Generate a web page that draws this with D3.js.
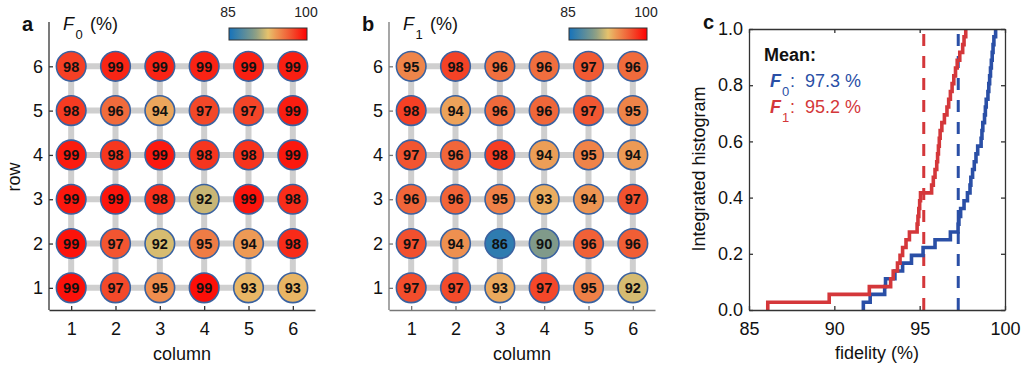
<!DOCTYPE html>
<html>
<head>
<meta charset="utf-8">
<script src="https://cdn.jsdelivr.net/npm/d3@7"></script>
<style>
  html, body { margin: 0; padding: 0; background: #fff; }
  svg { display: block; font-family: "Liberation Sans", Arial, Helvetica, sans-serif; }
</style>
</head>
<body>
<svg id="fig" width="1022" height="369"></svg>
<script>
// ---- data -------------------------------------------------------------
const columns = [1, 2, 3, 4, 5, 6];
const rowsTopDown = [6, 5, 4, 3, 2, 1];

// readout fidelity of |0> per qubit (%), rows listed from row 6 down to row 1
const f0Values = [
  [97.6, 98.6, 98.65, 98.7, 98.8, 98.85],
  [97.8, 95.9, 93.55, 97.3, 97.4, 98.9],
  [99.0, 97.95, 99.05, 98.0, 98.1, 99.1],
  [99.15, 99.2, 98.2, 91.7, 99.25, 98.3],
  [99.3, 96.8, 92.1, 95.2, 94.0, 98.4],
  [99.35, 97.25, 94.52, 99.45, 92.95, 93.0]
];

// readout fidelity of |1> per qubit (%), same layout
const f1Values = [
  [94.85, 97.52, 95.7, 95.8, 96.6, 95.9],
  [97.6, 93.7, 96.0, 96.05, 96.7, 94.9],
  [96.8, 96.1, 97.7, 93.85, 94.95, 94.0],
  [96.15, 96.2, 95.0, 93.3, 94.2, 96.9],
  [97.0, 94.4, 86.1, 89.7, 96.3, 96.45],
  [97.1, 97.2, 93.45, 97.35, 95.05, 92.05]
];

const colorDomain = [85, 90, 92.5, 94, 97, 100];
const colorRange = ["#1673bb", "#879d87", "#e6c26c", "#ed9a55", "#f2502e", "#ff0000"];
const colorbarTicks = [85, 100];
const fidelityTicks = [85, 90, 95, 100];
const cdfTicks = [0, 0.2, 0.4, 0.6, 0.8, 1.0];

// ---- setup ------------------------------------------------------------
const svg = d3.select("#fig");
const FONT = '"Liberation Sans", Arial, Helvetica, sans-serif';
const color = d3.scaleLinear().domain(colorDomain).range(colorRange).interpolate(d3.interpolateRgb).clamp(true);

const RED = "#d4373a";
const BLUE = "#2a4fa6";

function styleAxis(g, stroke, size) {
  g.attr("font-family", FONT).attr("font-size", size);
  g.select(".domain").attr("stroke", stroke).attr("stroke-width", 1.3);
  g.selectAll(".tick line").attr("stroke", stroke).attr("stroke-width", 1.3);
  g.selectAll(".tick text").attr("fill", "#111");
}

// colorbar gradient
const defs = svg.append("defs");
const grad = defs.append("linearGradient").attr("id", "cbar").attr("x1", "0%").attr("x2", "100%");
d3.range(0, 1.0001, 0.05).forEach(t => {
  grad.append("stop").attr("offset", (t * 100) + "%").attr("stop-color", color(85 + t * 15));
});

// ---- qubit grid panels ------------------------------------------------
function drawGridPanel(offsetX, values, letter, sub, axisStroke) {
  const g = svg.append("g").attr("transform", `translate(${offsetX},0)`);
  const x = d3.scaleLinear().domain([0.5, 6.5]).range([49, 315]);
  const y = d3.scaleLinear().domain([0.5, 7]).range([310, 22]);

  // coupler lines
  const grid = g.append("g").attr("stroke", "#cfcfcf").attr("stroke-width", 6);
  rowsTopDown.forEach(r => {
    grid.append("line").attr("x1", x(columns[0])).attr("x2", x(columns[columns.length - 1]))
      .attr("y1", y(r)).attr("y2", y(r));
  });
  columns.forEach(c => {
    grid.append("line").attr("x1", x(c)).attr("x2", x(c))
      .attr("y1", y(1)).attr("y2", y(6));
  });

  // axes
  const ax = g.append("g").attr("transform", `translate(0,${y(0.5)})`)
    .call(d3.axisBottom(x).tickValues(columns).tickFormat(d3.format("d"))
      .tickSizeInner(-4).tickSizeOuter(0).tickPadding(12));
  styleAxis(ax, axisStroke, 18);
  const ay = g.append("g").attr("transform", `translate(${x(0.5)},0)`)
    .call(d3.axisLeft(y).tickValues(rowsTopDown).tickFormat(d3.format("d"))
      .tickSizeInner(-4).tickSizeOuter(0).tickPadding(6));
  styleAxis(ay, axisStroke, 18);
  ay.select(".domain").attr("d", `M0,${y(0.5)}V${y(7)}`);

  // qubits
  const cells = [];
  rowsTopDown.forEach((r, i) => columns.forEach((c, j) => cells.push({ r, c, v: values[i][j] })));
  const q = g.append("g").selectAll("g").data(cells).join("g")
    .attr("transform", d => `translate(${x(d.c)},${y(d.r)})`);
  q.append("circle").attr("r", 14.8).attr("fill", d => color(d.v))
    .attr("stroke", "#3a62a0").attr("stroke-width", 1.6);
  q.append("text").attr("text-anchor", "middle").attr("dy", "0.36em")
    .attr("font-size", 14.5).attr("font-weight", "bold").attr("fill", "#111")
    .text(d => Math.round(d.v));

  // labels
  g.append("text").attr("x", 182).attr("y", 360).attr("text-anchor", "middle")
    .attr("font-size", 18).attr("fill", "#111").text("column");
  g.append("text").attr("x", 22).attr("y", 31).attr("font-size", 20).attr("font-weight", "bold")
    .attr("fill", "#111").text(letter);
  g.append("text").attr("x", 63).attr("y", 30).attr("font-size", 18).attr("font-style", "italic")
    .attr("fill", "#111").text("F");
  g.append("text").attr("x", 75.5).attr("y", 39).attr("font-size", 13).attr("fill", "#111").text(sub);
  g.append("text").attr("x", 90).attr("y", 30).attr("font-size", 18).attr("fill", "#111").text("(%)");

  // colorbar
  const cb = d3.scaleLinear().domain([85, 100]).range([229, 307]);
  g.append("rect").attr("x", cb(85)).attr("y", 28).attr("width", cb(100) - cb(85)).attr("height", 12)
    .attr("fill", "url(#cbar)").attr("stroke", "#333").attr("stroke-width", 1);
  g.selectAll(".cbt").data(colorbarTicks).join("text").attr("class", "cbt")
    .attr("x", d => cb(d) - 1).attr("y", 17).attr("text-anchor", "middle")
    .attr("font-size", 14).attr("fill", "#222").text(d => d);
  return g;
}

const ga = drawGridPanel(0, f0Values, "a", "0", "#333");
ga.append("text").attr("transform", "translate(20,177) rotate(-90)").attr("text-anchor", "middle")
  .attr("font-size", 18).attr("fill", "#111").text("row");
drawGridPanel(340, f1Values, "b", "1", "#777");

// ---- integrated histogram panel --------------------------------------
const xc = d3.scaleLinear().domain([85, 100]).range([749, 1005]);
const yc = d3.scaleLinear().domain([0, 1]).range([310, 29]);
const gc = svg.append("g");

function cdfPoints(values) {
  const s = values.flat().slice().sort(d3.ascending);
  const n = s.length;
  const pts = [[s[0], 0]];
  s.forEach((v, i) => pts.push([v, (i + 1) / n]));
  return pts;
}
const line = d3.line().x(d => xc(d[0])).y(d => yc(d[1])).curve(d3.curveStepAfter);

const mean0 = d3.mean(f0Values.flat());
const mean1 = d3.mean(f1Values.flat());

// mean markers
[[mean1, RED], [mean0, BLUE]].forEach(([m, col]) => {
  gc.append("line").attr("x1", xc(m)).attr("x2", xc(m)).attr("y1", yc(0)).attr("y2", yc(1))
    .attr("stroke", col).attr("stroke-width", 3).attr("stroke-dasharray", "12,10");
});

gc.append("path").datum(cdfPoints(f0Values)).attr("d", line)
  .attr("fill", "none").attr("stroke", BLUE).attr("stroke-width", 3.6);
gc.append("path").datum(cdfPoints(f1Values)).attr("d", line)
  .attr("fill", "none").attr("stroke", RED).attr("stroke-width", 3.6);

// box axes
const cb1 = gc.append("g").attr("transform", `translate(0,${yc(0)})`)
  .call(d3.axisBottom(xc).tickValues(fidelityTicks).tickFormat(d3.format("d"))
    .tickSizeInner(-4).tickSizeOuter(0).tickPadding(12));
styleAxis(cb1, "#333", 18);
const ct1 = gc.append("g").attr("transform", `translate(0,${yc(1)})`)
  .call(d3.axisTop(xc).tickValues(fidelityTicks).tickSizeInner(-4).tickSizeOuter(0).tickFormat(""));
styleAxis(ct1, "#333", 18);
const cl1 = gc.append("g").attr("transform", `translate(${xc(85)},0)`)
  .call(d3.axisLeft(yc).tickValues(cdfTicks).tickSizeInner(-4).tickSizeOuter(0).tickPadding(6).tickFormat(d3.format(".1f")));
styleAxis(cl1, "#333", 18);
const cr1 = gc.append("g").attr("transform", `translate(${xc(100)},0)`)
  .call(d3.axisRight(yc).tickValues(cdfTicks).tickSizeInner(-4).tickSizeOuter(0).tickFormat(""));
styleAxis(cr1, "#333", 18);

gc.append("text").attr("x", 877).attr("y", 359).attr("text-anchor", "middle")
  .attr("font-size", 18).attr("fill", "#111").text("fidelity (%)");
gc.append("text").attr("transform", "translate(705,169) rotate(-90)").attr("text-anchor", "middle")
  .attr("font-size", 18).attr("fill", "#111").text("Integrated histogram");
gc.append("text").attr("x", 703).attr("y", 29).attr("font-size", 20).attr("font-weight", "bold")
  .attr("fill", "#111").text("c");

// mean legend
gc.append("text").attr("x", 764).attr("y", 61).attr("font-size", 18).attr("font-weight", "bold")
  .attr("fill", "#111").text("Mean:");
[[mean0, BLUE, "0", 87], [mean1, RED, "1", 113]].forEach(([m, col, sub, yb]) => {
  gc.append("text").attr("x", 770).attr("y", yb).attr("font-size", 18).attr("font-weight", "bold")
    .attr("font-style", "italic").attr("fill", col).text("F");
  gc.append("text").attr("x", 782).attr("y", yb + 9).attr("font-size", 13).attr("fill", col).text(sub);
  gc.append("text").attr("x", 790).attr("y", yb).attr("font-size", 18).attr("fill", col).text(":");
  gc.append("text").attr("x", 805).attr("y", yb).attr("font-size", 18).attr("fill", col)
    .text(m.toFixed(1) + " %");
});
</script>
</body>
</html>
